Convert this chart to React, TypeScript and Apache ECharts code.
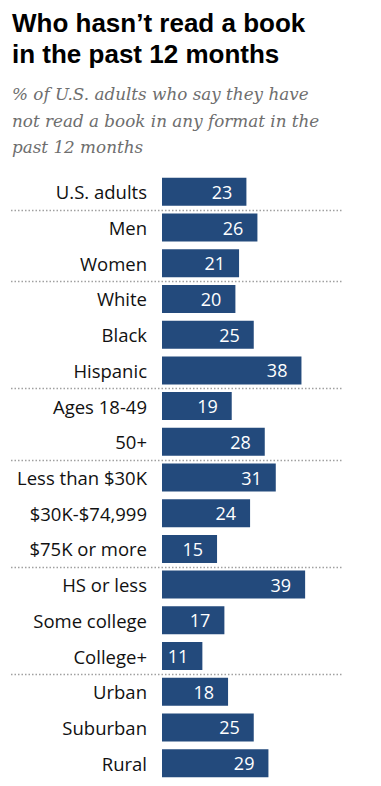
import React, { useEffect, useRef } from "react";
import * as echarts from "echarts";

const categories = [
  "U.S. adults",
  "Men",
  "Women",
  "White",
  "Black",
  "Hispanic",
  "Ages 18-49",
  "50+",
  "Less than $30K",
  "$30K-$74,999",
  "$75K or more",
  "HS or less",
  "Some college",
  "College+",
  "Urban",
  "Suburban",
  "Rural",
];
const values = [23, 26, 21, 20, 25, 38, 19, 28, 31, 24, 15, 39, 17, 11, 18, 25, 29];
const separatorsAfter = [0, 2, 5, 7, 10, 13];
const titleLines = ["Who hasn’t read a book", "in the past 12 months"];
const subtitleLines = [
  "% of U.S. adults who say they have",
  "not read a book in any format in the",
  "past 12 months",
];

const SANS = "'Liberation Sans', Arial, sans-serif";
const LABEL = "'Open Sans', 'Noto Sans', Arial, sans-serif";
const SERIF = "'DejaVu Serif', Georgia, serif";
const BAR = "#234a7c";

export default function App() {
  const ref = useRef<HTMLDivElement>(null);

  useEffect(() => {
    document.body.style.margin = "0";
    if (!ref.current) return;
    const chart = echarts.init(ref.current, undefined, { renderer: "svg" });
    chart.setOption({
      animation: false,
      grid: { left: 162, top: 174, width: 146.8, height: 607, containLabel: false },
      xAxis: {
        type: "value",
        min: 0,
        max: 40,
        show: false,
      },
      yAxis: {
        type: "category",
        data: categories,
        inverse: true,
        axisLine: { show: false },
        axisTick: { show: false },
        splitLine: { show: false },
        axisLabel: {
          margin: 15,
          color: "#111",
          fontFamily: LABEL,
          fontSize: 18.5,
        },
      },
      series: [
        {
          type: "bar",
          data: values,
          barWidth: 28,
          itemStyle: { color: BAR },
          label: {
            show: true,
            position: "insideRight",
            distance: 14,
            color: "#fff",
            fontFamily: LABEL,
            fontSize: 18,
          },
        },
      ],
    });

    const graphics: any[] = [];
    titleLines.forEach((t, i) => {
      graphics.push({
        type: "text",
        x: 12,
        y: 22.5 + i * 31.5,
        style: {
          text: t,
          fill: "#000",
          font: `bold 26px ${SANS}`,
          verticalAlign: "middle",
        },
      });
    });
    subtitleLines.forEach((t, i) => {
      graphics.push({
        type: "text",
        x: 12,
        y: 94 + i * 26.5,
        style: {
          text: t,
          fill: "#6e6e6e",
          font: `italic 16.8px ${SERIF}`,
          verticalAlign: "middle",
        },
      });
    });
    separatorsAfter.forEach((idx) => {
      const a = chart.convertToPixel({ yAxisIndex: 0 }, idx) as number;
      const b = chart.convertToPixel({ yAxisIndex: 0 }, idx + 1) as number;
      const y = Math.round((a + b) / 2) + 0.5;
      graphics.push({
        type: "line",
        shape: { x1: 11, y1: y, x2: 343, y2: y },
        style: { stroke: "#a0a0a0", lineWidth: 1.5, lineDash: [1.5, 2] },
      });
    });
    chart.setOption({ graphic: graphics });

    return () => chart.dispose();
  }, []);

  return <div ref={ref} style={{ width: 381, height: 786 }} />;
}
